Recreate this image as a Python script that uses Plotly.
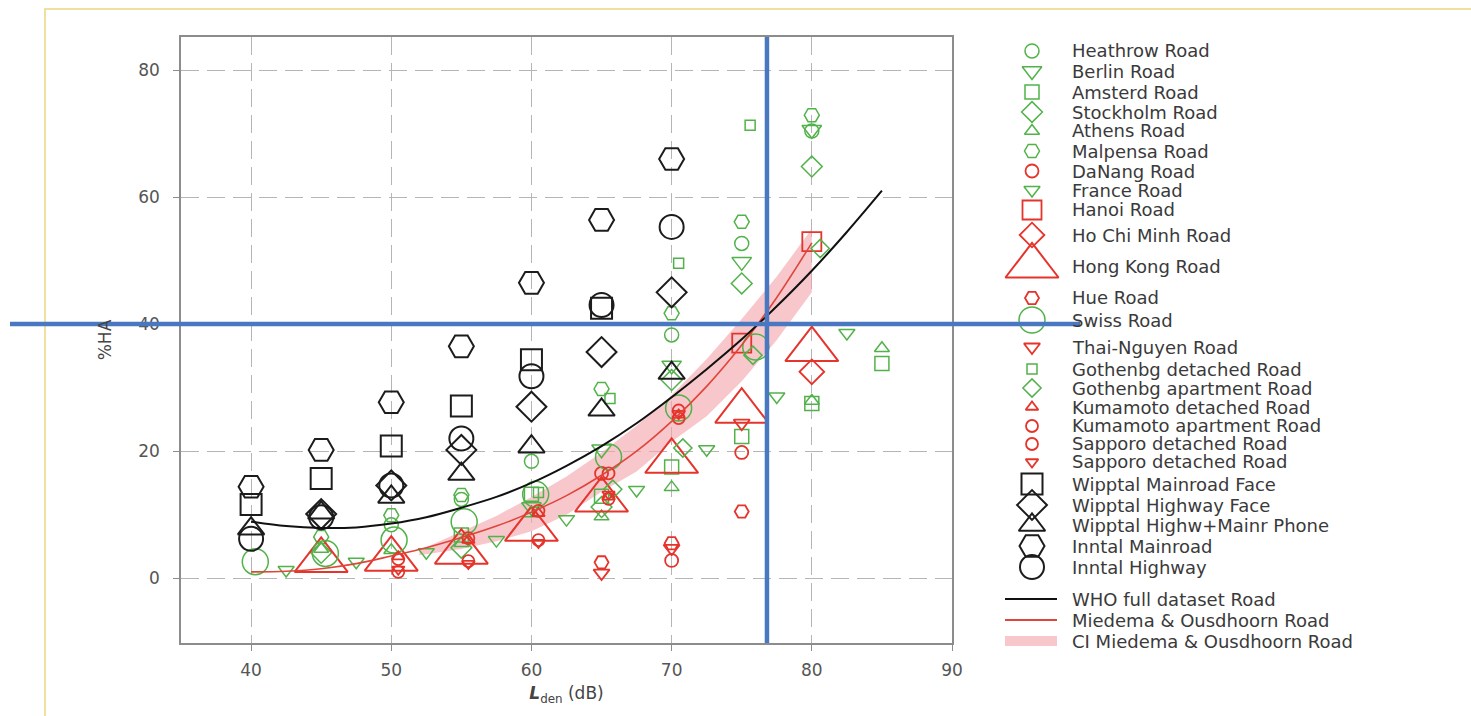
import plotly.graph_objects as go

# ------------------------------------------------------------------
# DATA
# ------------------------------------------------------------------
HEATHROW_X = [50, 55, 60, 70, 75, 80]
HEATHROW_Y = [8.4, 12.4, 18.4, 38.3, 52.7, 70.4]
BERLIN_X = [60, 65, 70, 75, 80]
BERLIN_Y = [11.2, 20.3, 33.5, 49.8, 70.6]
AMSTERD_X = [55, 60, 65, 70, 75, 80, 85]
AMSTERD_Y = [6.8, 13.2, 12.9, 17.5, 22.3, 27.5, 33.8]
STOCKHOLM_X = [45, 55, 65, 70, 75, 80]
STOCKHOLM_Y = [4.0, 4.8, 11.2, 31.2, 46.4, 64.8]
ATHENS_X = [45, 50, 55, 60, 65, 70, 80, 85]
ATHENS_Y = [4.6, 4.4, 5.5, 10.2, 9.7, 14.3, 27.9, 36.2]
MALPENSA_X = [45, 50, 55, 65, 70, 75, 80]
MALPENSA_Y = [6.5, 9.9, 13.1, 29.8, 41.7, 56.1, 72.9]
DANANG_X = [65, 70, 75]
DANANG_Y = [16.5, 2.8, 19.8]
FRANCE_X = [42.5, 47.5, 52.5, 57.5, 62.5, 67.5, 72.5, 77.5, 82.5]
FRANCE_Y = [1.3, 2.6, 4.1, 6.0, 9.3, 13.9, 20.3, 28.6, 38.6]
HANOI_X = [75, 80]
HANOI_Y = [37.0, 53.0]
HOCHIMINH_X = [80]
HOCHIMINH_Y = [32.5]
HONGKONG_X = [45, 50, 55, 60, 65, 70, 75, 80]
HONGKONG_Y = [2.8, 3.0, 4.1, 7.7, 12.3, 18.4, 26.3, 36.0]
HUE_X = [65, 70, 75]
HUE_Y = [2.5, 5.5, 10.5]
SWISS_X = [40.3, 45.3, 50.2, 55.2, 60.3, 65.5, 70.5, 76.0]
SWISS_Y = [2.6, 3.9, 6.0, 8.9, 13.2, 19.1, 26.8, 36.4]
THAINGUYEN_X = [65, 70, 75]
THAINGUYEN_Y = [0.8, 4.7, 24.4]
GOTH_DET_X = [60.5, 65.6, 70.5, 75.6]
GOTH_DET_Y = [13.5, 28.3, 49.6, 71.3]
GOTH_APT_X = [65.8, 70.8, 75.8, 80.6]
GOTH_APT_Y = [14.0, 20.5, 35.1, 51.9]
KUMA_DET_X = [50.5, 55.5, 60.5, 65.5, 70.5]
KUMA_DET_Y = [3.4, 6.0, 10.2, 12.8, 25.7]
KUMA_APT_X = [50.5, 55.5, 60.5, 65.5, 70.5]
KUMA_APT_Y = [1.0, 2.7, 6.0, 16.5, 26.4]
SAPPORO_C_X = [50.5, 55.5, 60.5, 65.5, 70.5]
SAPPORO_C_Y = [3.0, 6.3, 10.6, 12.5, 25.2]
SAPPORO_T_X = [50.5, 55.5, 60.5, 65.5, 70.5]
SAPPORO_T_Y = [1.4, 2.3, 5.6, 13.2, 25.9]
WIPP_MAIN_X = [40, 45, 50, 55, 60, 65]
WIPP_MAIN_Y = [11.6, 15.7, 20.8, 27.1, 34.4, 42.5]
WIPP_HWY_X = [45, 50, 55, 60, 65, 70]
WIPP_HWY_Y = [10.1, 14.6, 20.2, 27.0, 35.6, 45.0]
WIPP_PHONE_X = [40, 45, 50, 55, 60, 65, 70]
WIPP_PHONE_Y = [7.8, 10.3, 12.8, 16.4, 20.7, 26.5, 32.3]
INNTAL_MAIN_X = [40, 45, 50, 55, 60, 65, 70]
INNTAL_MAIN_Y = [14.4, 20.2, 27.7, 36.5, 46.5, 56.4, 66.0]
INNTAL_HWY_X = [40, 45, 50, 55, 60, 65, 70]
INNTAL_HWY_Y = [6.2, 9.6, 14.6, 22.0, 31.8, 43.0, 55.3]

WHO_X = [40, 42.5, 45, 47.5, 50, 52.5, 55, 57.5, 60, 62.5, 65, 67.5, 70,
         72.5, 75, 77.5, 80, 82.5, 85]
WHO_Y = [8.9, 8.2, 7.9, 8.0, 8.6, 9.6, 11.1, 12.8, 15.0, 17.7, 20.8, 24.4,
         28.5, 32.9, 37.6, 42.8, 48.4, 54.5, 61.0]
MO_X = [40, 42.5, 45, 47.5, 50, 52.5, 55, 57.5, 60, 62.5, 65, 67.5, 70,
        72.5, 75, 77.5, 80]
MO_Y = [1.0, 1.1, 1.5, 2.3, 3.5, 4.8, 6.4, 8.2, 10.4, 13.0, 16.2, 20.0,
        24.7, 30.2, 36.7, 44.2, 52.8]
CI_X = [52, 55, 57.5, 60, 62.5, 65, 67.5, 70, 72.5, 75, 77.5, 80]
CI_UP = [4.4, 7.4, 9.8, 12.8, 16.0, 19.8, 24.0, 28.8, 34.5, 40.8, 47.5, 55.0]
CI_LO = [3.6, 4.6, 5.8, 7.4, 10.0, 13.6, 16.8, 21.5, 25.5, 31.0, 37.5, 45.0]

X_TICKS = [40, 50, 60, 70, 80, 90]
Y_TICKS = [0, 20, 40, 60, 80]

# annotation lines drawn on the reference (data coordinates)
MARK_X = 76.8
MARK_Y = 40

# ------------------------------------------------------------------
# STYLES
# ------------------------------------------------------------------
G = "#52b24a"
R = "#e5342b"
K = "#1c1c1c"
FONT = "DejaVu Sans"

SERIES = [
    # label, x, y, symbol, colour, size, line width
    ("Heathrow Road", HEATHROW_X, HEATHROW_Y, "circle-open", G, 14, 1.5),
    ("Berlin Road", BERLIN_X, BERLIN_Y, "triangle-down-open", G, 17, 1.5),
    ("Amsterd Road", AMSTERD_X, AMSTERD_Y, "square-open", G, 14, 1.5),
    ("Stockholm Road", STOCKHOLM_X, STOCKHOLM_Y, "diamond-open", G, 16, 1.5),
    ("Athens Road", ATHENS_X, ATHENS_Y, "triangle-up-open", G, 13, 1.5),
    ("Malpensa Road", MALPENSA_X, MALPENSA_Y, "hexagon2-open", G, 15, 1.5),
    ("DaNang Road", DANANG_X, DANANG_Y, "circle-open", R, 13, 1.8),
    ("France Road", FRANCE_X, FRANCE_Y, "triangle-down-open", G, 14, 1.5),
    ("Hanoi Road", HANOI_X, HANOI_Y, "square-open", R, 19, 1.8),
    ("Ho Chi Minh Road", HOCHIMINH_X, HOCHIMINH_Y, "diamond-open", R, 19, 1.8),
    ("Hong Kong Road", HONGKONG_X, HONGKONG_Y, "triangle-up-open", R, 46, 2),
    ("Hue Road", HUE_X, HUE_Y, "hexagon2-open", R, 14, 1.8),
    ("Swiss Road", SWISS_X, SWISS_Y, "circle-open", G, 26, 1.5),
    ("Thai-Nguyen Road", THAINGUYEN_X, THAINGUYEN_Y, "triangle-down-open", R, 14, 1.8),
    ("Gothenbg detached Road", GOTH_DET_X, GOTH_DET_Y, "square-open", G, 10, 1.5),
    ("Gothenbg apartment Road", GOTH_APT_X, GOTH_APT_Y, "diamond-open", G, 14, 1.5),
    ("Kumamoto detached Road", KUMA_DET_X, KUMA_DET_Y, "triangle-up-open", R, 11, 1.8),
    ("Kumamoto apartment Road", KUMA_APT_X, KUMA_APT_Y, "circle-open", R, 12, 1.8),
    ("Sapporo detached Road", SAPPORO_C_X, SAPPORO_C_Y, "circle-open", R, 12, 1.8),
    ("Sapporo detached Road", SAPPORO_T_X, SAPPORO_T_Y, "triangle-down-open", R, 11, 1.8),
    ("Wipptal Mainroad Face", WIPP_MAIN_X, WIPP_MAIN_Y, "square-open", K, 21, 2),
    ("Wipptal Highway Face", WIPP_HWY_X, WIPP_HWY_Y, "diamond-open", K, 23, 2),
    ("Wipptal Highw+Mainr Phone", WIPP_PHONE_X, WIPP_PHONE_Y, "triangle-up-open", K, 23, 2),
    ("Inntal Mainroad", INNTAL_MAIN_X, INNTAL_MAIN_Y, "hexagon2-open", K, 25, 2),
    ("Inntal Highway", INNTAL_HWY_X, INNTAL_HWY_Y, "circle-open", K, 24, 2),
]
LINE_LABELS = ["WHO full dataset Road", "Miedema & Ousdhoorn Road",
               "CI Miedema & Ousdhoorn Road"]

# layout geometry (pixels)
W, H = 1471, 716
PLOT_L, PLOT_R, PLOT_T, PLOT_B = 181, 952, 37, 643
LEG_MARK_X = 1032
LEG_TEXT_X = 1071
LEG_ROWS = [51, 71, 92, 112, 131, 151, 171, 190, 210, 235, 266, 298, 320,
            347, 369, 388, 407, 426, 444, 462, 484, 505, 525, 546, 567]
LEG_LINE_ROWS = [599, 620, 641]
LEG_FONT_SIZE = 18

fig = go.Figure()

# CI band
fig.add_trace(go.Scatter(
    x=CI_X + CI_X[::-1], y=CI_UP + CI_LO[::-1], fill="toself",
    fillcolor="rgba(242,165,172,0.62)", line=dict(width=0),
    mode="lines", hoverinfo="skip", showlegend=False))

# scatter series
for name, xs, ys, sym, col, size, lw in SERIES:
    fig.add_trace(go.Scatter(
        x=xs, y=ys, mode="markers", name=name, showlegend=False,
        marker=dict(symbol=sym, color=col, size=size, line=dict(width=lw))))

# fitted curves
fig.add_trace(go.Scatter(x=MO_X, y=MO_Y, mode="lines", line_shape="spline",
                         line=dict(color="#e0453a", width=1.6),
                         showlegend=False, name=LINE_LABELS[1]))
fig.add_trace(go.Scatter(x=WHO_X, y=WHO_Y, mode="lines", line_shape="spline",
                         line=dict(color="#111111", width=2),
                         showlegend=False, name=LINE_LABELS[0]))

# ---- legend drawn on a transparent overlay axis in pixel units ----
for (name, xs, ys, sym, col, size, lw), ry in zip(SERIES, LEG_ROWS):
    fig.add_trace(go.Scatter(
        x=[LEG_MARK_X], y=[ry], xaxis="x2", yaxis="y2", mode="markers",
        showlegend=False, hoverinfo="skip",
        marker=dict(symbol=sym, color=col, size=size, line=dict(width=lw))))

annotations = []
for (name, *_), ry in zip(SERIES, LEG_ROWS):
    annotations.append(dict(
        x=LEG_TEXT_X / W, y=1 - ry / H, xref="paper", yref="paper",
        text=name, showarrow=False, xanchor="left", yanchor="middle",
        borderpad=0, font=dict(family=FONT, size=LEG_FONT_SIZE, color="#3a3a3a")))
for lab, ry in zip(LINE_LABELS, LEG_LINE_ROWS):
    annotations.append(dict(
        x=LEG_TEXT_X / W, y=1 - ry / H, xref="paper", yref="paper",
        text=lab, showarrow=False, xanchor="left", yanchor="middle",
        borderpad=0, font=dict(family=FONT, size=LEG_FONT_SIZE, color="#3a3a3a")))

shapes = [
    # light gold frame of the slide
    dict(type="rect", xref="paper", yref="paper", x0=45 / W, x1=1.2,
         y0=-0.2, y1=1 - 9 / H, line=dict(color="#efe0a0", width=2),
         layer="below"),
    # legend line samples
    dict(type="line", xref="paper", yref="paper",
         x0=1005 / W, x1=1057 / W, y0=1 - LEG_LINE_ROWS[0] / H, y1=1 - LEG_LINE_ROWS[0] / H,
         line=dict(color="#111111", width=2)),
    dict(type="line", xref="paper", yref="paper",
         x0=1005 / W, x1=1057 / W, y0=1 - LEG_LINE_ROWS[1] / H, y1=1 - LEG_LINE_ROWS[1] / H,
         line=dict(color="#e0453a", width=2)),
    dict(type="rect", xref="paper", yref="paper",
         x0=1005 / W, x1=1057 / W, y0=1 - (LEG_LINE_ROWS[2] + 5) / H,
         y1=1 - (LEG_LINE_ROWS[2] - 5) / H,
         line=dict(width=0), fillcolor="rgba(242,165,172,0.62)"),
    # blue marker lines
    dict(type="line", xref="paper", yref="y", x0=10 / W, x1=1080 / W,
         y0=MARK_Y, y1=MARK_Y, line=dict(color="#4a78c0", width=4.5),
         layer="above"),
    dict(type="line", xref="x", yref="y domain", x0=MARK_X, x1=MARK_X,
         y0=0, y1=1, line=dict(color="#4a78c0", width=4.5), layer="above"),
]

axis_common = dict(
    showline=True, mirror=True, linecolor="#8c8c8c", linewidth=1.5,
    showgrid=True, gridcolor="#b5b5b5", gridwidth=1.2, griddash="18px,8px",
    zeroline=False, ticks="outside", ticklen=6, tickcolor="#8c8c8c",
    tickfont=dict(family=FONT, size=17, color="#555555"), automargin=False,
)

fig.update_layout(
    template="none",
    width=W, height=H, autosize=False,
    margin=dict(l=0, r=0, t=0, b=0, pad=0),
    paper_bgcolor="white", plot_bgcolor="rgba(0,0,0,0)",
    showlegend=False,
    font=dict(family=FONT),
    xaxis=dict(axis_common, domain=[PLOT_L / W, PLOT_R / W], range=[35, 90],
               tickvals=X_TICKS, ticklabelstandoff=5,
               title=dict(text="<b><i>L</i></b><sub>den</sub> (dB)",
                          font=dict(family=FONT, size=17, color="#444444"),
                          standoff=8)),
    yaxis=dict(axis_common, domain=[1 - PLOT_B / H, 1 - PLOT_T / H],
               range=[-10.2, 85.2], tickvals=Y_TICKS, ticklabelstandoff=10,
               title=dict(text="%HA",
                          font=dict(family=FONT, size=17, color="#444444"),
                          standoff=22)),
    xaxis2=dict(domain=[0, 1], range=[0, W], visible=False, anchor="y2",
                automargin=False),
    yaxis2=dict(domain=[0, 1], range=[H, 0], visible=False, anchor="x2",
                automargin=False),
    annotations=annotations,
    shapes=shapes,
)

fig.write_html("out.html")
